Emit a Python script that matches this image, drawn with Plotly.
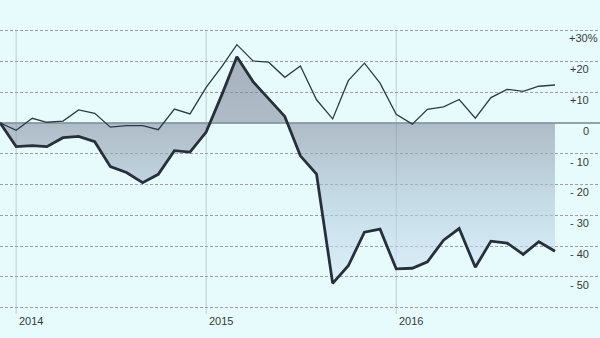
import plotly.graph_objects as go

# Monthly observations, Dec 2013 - Nov 2016 (% change)
months = [
    "2013-12-01", "2014-01-01", "2014-02-01", "2014-03-01", "2014-04-01", "2014-05-01",
    "2014-06-01", "2014-07-01", "2014-08-01", "2014-09-01", "2014-10-01", "2014-11-01",
    "2014-12-01", "2015-01-01", "2015-02-01", "2015-03-01", "2015-04-01", "2015-05-01",
    "2015-06-01", "2015-07-01", "2015-08-01", "2015-09-01", "2015-10-01", "2015-11-01",
    "2015-12-01", "2016-01-01", "2016-02-01", "2016-03-01", "2016-04-01", "2016-05-01",
    "2016-06-01", "2016-07-01", "2016-08-01", "2016-09-01", "2016-10-01", "2016-11-01",
]

index_change = [
    0.0, -2.4, 1.5, 0.2, 0.6, 4.2, 3.1, -1.4, -0.9, -0.9, -2.2, 4.5,
    2.9, 11.5, 18.5, 25.4, 20.1, 19.7, 14.8, 18.5, 7.5, 1.3, 13.7, 19.4,
    12.9, 2.8, -0.4, 4.4, 5.2, 7.6, 1.5, 8.2, 10.9, 10.2, 11.9, 12.3,
]

share_change = [
    0.0, -7.7, -7.4, -7.7, -4.8, -4.4, -6.1, -14.2, -16.1, -19.4, -16.7, -9.0,
    -9.5, -3.0, 9.5, 21.5, 13.4, 8.0, 2.1, -10.7, -16.6, -52.1, -46.4, -35.5,
    -34.5, -47.4, -47.2, -45.1, -38.1, -34.3, -46.9, -38.4, -39.0, -42.7, -38.6, -41.7,
]

y_ticks = [30, 20, 10, 0, -10, -20, -30, -40, -50]
y_tick_text = ["+30%", "+20", "+10", "0", "- 10", "- 20", "- 30", "- 40", "- 50"]
year_ticks = ["2014-01-01", "2015-01-01", "2016-01-01"]
year_labels = ["2014", "2015", "2016"]

BG = "#e8fbfc"
TEXT = "#333a3f"
FONT = "Liberation Sans, Arial, sans-serif"

fig = go.Figure()

# Shaded area between the share line and zero
fig.add_trace(go.Scatter(
    x=months, y=share_change, mode="lines", fill="tozeroy",
    line=dict(color="#262f3a", width=2.8),
    fillgradient=dict(
        type="vertical", start=-52, stop=22,
        colorscale=[
            [0.0, "rgba(212,233,247,0.6)"],
            [0.35, "rgba(175,200,218,0.6)"],
            [0.70, "rgba(137,146,164,0.6)"],
            [1.0, "rgba(122,128,148,0.6)"],
        ],
    ),
    hoverinfo="skip", showlegend=False,
))

fig.add_trace(go.Scatter(
    x=months, y=index_change, mode="lines",
    line=dict(color="#2b3b46", width=1.3),
    hoverinfo="skip", showlegend=False,
))

# Year marker lines
for d in year_ticks:
    fig.add_shape(type="line", xref="x", yref="y", x0=d, x1=d, y0=30, y1=-62,
                  line=dict(color="#b9ccd1", width=1), layer="below")

annotations = []
for v, t in zip(y_ticks, y_tick_text):
    right_px = 599 if t.endswith("%") else 590
    annotations.append(dict(
        x=right_px / 600, xref="paper", y=v, yref="y", yshift=-8,
        text=t, showarrow=False, xanchor="right", yanchor="middle",
        borderpad=0,
        font=dict(family=FONT, size=11, color=TEXT),
    ))
for d, t in zip(year_ticks, year_labels):
    annotations.append(dict(
        x=d, xref="x", y=0, yref="paper", yshift=-1, xshift=1,
        text=t, showarrow=False, xanchor="left", yanchor="middle",
        font=dict(family=FONT, size=11, color=TEXT),
    ))

fig.update_layout(
    width=600, height=338,
    margin=dict(l=0, r=0, t=12, b=18),
    paper_bgcolor=BG, plot_bgcolor=BG,
    showlegend=False,
    annotations=annotations,
    xaxis=dict(
        range=["2013-12-01", "2017-01-26 12:00"],
        showgrid=False, zeroline=False, showticklabels=False, ticks="",
        showline=False, fixedrange=True,
    ),
    yaxis=dict(
        range=[-64, 36],
        tickvals=[30, 20, 10, -10, -20, -30, -40, -50, -60],
        showticklabels=False, ticks="",
        showgrid=True, gridcolor="#9aa0a3", gridwidth=1, griddash="3px,2px",
        zeroline=True, zerolinecolor="#8fa5a8", zerolinewidth=2,
        showline=False, fixedrange=True,
    ),
)

fig.write_html("out.html", config={"displayModeBar": False})
